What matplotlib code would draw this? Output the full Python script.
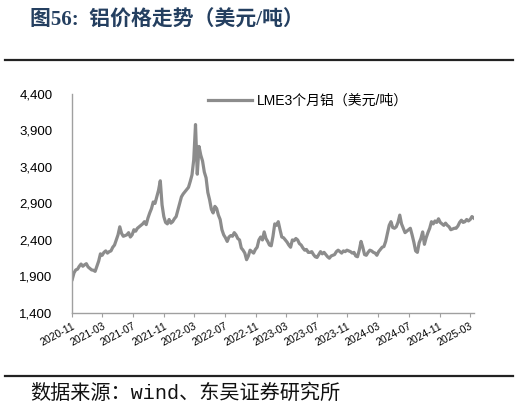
import numpy as np
import pandas as pd
import matplotlib
matplotlib.use('Agg')
import matplotlib.pyplot as plt
import matplotlib.dates as mdates
from matplotlib.ticker import FuncFormatter

plt.rcParams['font.family'] = ['Liberation Sans', 'Noto Sans CJK SC', 'DejaVu Sans']

#%% data: LME 3M aluminium, weekly (Mondays)
start_date = '2020-11-02'
end_date = '2025-03-17'
price = [
    1860, 1950, 1990, 2000, 2040,          # 2020-11
    2070, 2040, 2060, 2075,                # 2020-12
    2030, 2010, 1990, 1985,                # 2021-01
    1970, 2040, 2110, 2210,                # 2021-02
    2190, 2230, 2250, 2220, 2240,          # 2021-03
    2250, 2300, 2330, 2400,                # 2021-04
    2470, 2580, 2490, 2450, 2460,          # 2021-05
    2470, 2500, 2440, 2470,                # 2021-06
    2540, 2520, 2560, 2580,                # 2021-07
    2600, 2620, 2650, 2610, 2700,          # 2021-08
    2770, 2830, 2920, 2900,                # 2021-09
    2990, 3080, 3210, 2880,                # 2021-10
    2720, 2640, 2620, 2680, 2630,          # 2021-11
    2650, 2690, 2720, 2810,                # 2021-12
    2900, 2990, 3030, 3060, 3090,          # 2022-01
    3120, 3200, 3290, 3500,                # 2022-02
    3980, 3300, 3680, 3560,                # 2022-03
    3480, 3330, 3250, 3050,                # 2022-04
    2950, 2820, 2770, 2860, 2830,          # 2022-05
    2740, 2680, 2540, 2470,                # 2022-06
    2430, 2380, 2440, 2460,                # 2022-07
    2450, 2500, 2470, 2420, 2400,          # 2022-08
    2290, 2260, 2220, 2130,                # 2022-09
    2180, 2260, 2240, 2220, 2270,          # 2022-10
    2300, 2400, 2440, 2400,                # 2022-11
    2510, 2420, 2380, 2330,                # 2022-12
    2320, 2450, 2620, 2600, 2650,          # 2023-01
    2540, 2440, 2430, 2400,                # 2023-02
    2370, 2330, 2300, 2400,                # 2023-03
    2390, 2420, 2400, 2350,                # 2023-04
    2330, 2290, 2260, 2270, 2230,          # 2023-05
    2230, 2240, 2200, 2170,                # 2023-06
    2160, 2200, 2240, 2210, 2230,          # 2023-07
    2200, 2170, 2150, 2180,                # 2023-08
    2190, 2200, 2240, 2260,                # 2023-09
    2240, 2220, 2250, 2240, 2260,          # 2023-10
    2250, 2240, 2220, 2230,                # 2023-11
    2180, 2170, 2260, 2380,                # 2023-12
    2300, 2200, 2190, 2230, 2260,          # 2024-01
    2250, 2230, 2220, 2190,                # 2024-02
    2240, 2270, 2300, 2310,                # 2024-03
    2380, 2490, 2600, 2650, 2570,          # 2024-04
    2560, 2580, 2640, 2740,                # 2024-05
    2620, 2560, 2500, 2520,                # 2024-06
    2540, 2560, 2470, 2370, 2250,          # 2024-07
    2230, 2360, 2420, 2510,                # 2024-08
    2340, 2430, 2500, 2560, 2650,          # 2024-09
    2620, 2660, 2640, 2690,                # 2024-10
    2640, 2620, 2600, 2630,                # 2024-11
    2600, 2580, 2540, 2550, 2560,          # 2024-12
    2560, 2590, 2640, 2670,                # 2025-01
    2640, 2650, 2680, 2660,                # 2025-02
    2680, 2720, 2700,                      # 2025-03
]
dates = pd.date_range(start_date, end_date, freq='W-MON')
series_name = 'LME3个月铝（美元/吨）'
tick_months = pd.date_range('2020-11-01', '2025-03-01', freq='4MS')
y_ticks = [1400, 1900, 2400, 2900, 3400, 3900, 4400]

title = '图56:  铝价格走势（美元/吨）'
source = '数据来源：wind、东吴证券研究所'

#%% figure
fig = plt.figure(figsize=(5.18, 4.19), dpi=100)
ax = fig.add_axes([0.139, 0.253, 0.776, 0.523])

ax.plot(dates, price, color='#8c8c8c', lw=2.3, label=series_name)

ax.set_ylim(1400, 4400)
ax.set_yticks(y_ticks)
ax.yaxis.set_major_formatter(FuncFormatter(lambda v, p: f'{int(v):,}'))
ax.set_xlim(pd.Timestamp('2020-11-01'), pd.Timestamp('2025-03-18'))
ax.set_xticks(tick_months)
ax.xaxis.set_major_formatter(mdates.DateFormatter('%Y-%m'))

for s in ['top', 'right']:
    ax.spines[s].set_visible(False)
for s in ['left', 'bottom']:
    ax.spines[s].set_color('#a0a0a0')
    ax.spines[s].set_linewidth(1.0)

ax.tick_params(axis='y', length=0, pad=14, labelsize=9.5, colors='#000000')
ax.tick_params(axis='x', length=3, width=0.8, color='#a0a0a0', pad=3, labelsize=7.5)
plt.setp(ax.get_xticklabels(), rotation=28, ha='right', rotation_mode='anchor')

leg = ax.legend(loc='upper left', bbox_to_anchor=(0.338, 1.0), frameon=False,
                handlelength=3.2, handletextpad=0.3, borderaxespad=0, borderpad=0,
                prop={'size': 10})

# title and rules
fig.text(0.058, 0.952, title, fontsize=15, fontweight='bold', color='#243f60',
         family=['Liberation Serif', 'Noto Sans CJK SC'], va='center')
fig.add_artist(plt.Line2D([0.01, 0.99], [0.857, 0.857], color='#222222', lw=1.6))
fig.add_artist(plt.Line2D([0.01, 0.99], [0.103, 0.103], color='#222222', lw=1.6))
fig.text(0.058, 0.062, source, fontsize=14.5, color='#111111',
         family=['Liberation Mono', 'Noto Sans CJK SC', 'DejaVu Sans'], va='center')

fig.savefig('out.png', dpi=100)
